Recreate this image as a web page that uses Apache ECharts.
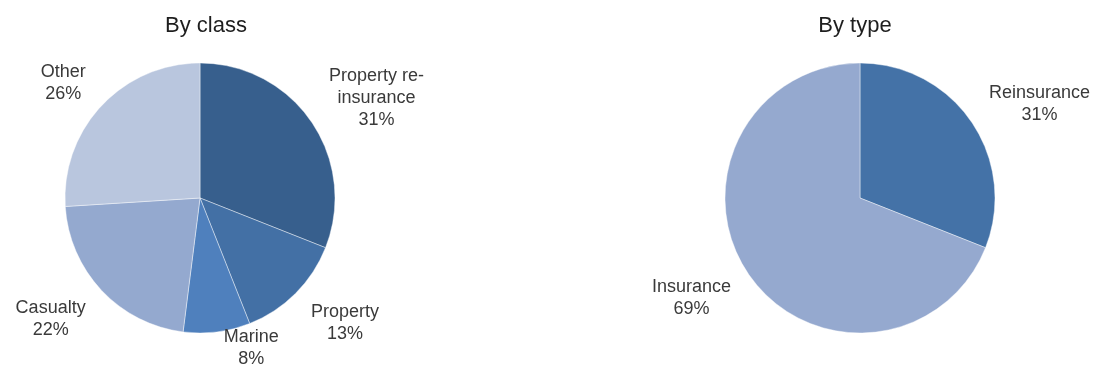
<!DOCTYPE html>
<html>
<head>
<meta charset="utf-8">
<script src="https://cdn.jsdelivr.net/npm/echarts@6/dist/echarts.min.js"></script>
<style>
  html, body { margin: 0; padding: 0; background: #ffffff; }
  #chart { width: 1095px; height: 365px; }
</style>
</head>
<body>
<div id="chart"></div>
<script>
// Premium split by class of business
const classNames = ['Property re-\ninsurance', 'Property', 'Marine', 'Casualty', 'Other'];
const classValues = [31, 13, 8, 22, 26];
const classColors = ['#375F8D', '#4370A5', '#4F80BD', '#94A9CF', '#B9C6DE'];

// Premium split by type of business
const typeNames = ['Reinsurance', 'Insurance'];
const typeValues = [31, 69];
const typeColors = ['#4472A7', '#95A9CF'];

const FONT = '"Liberation Sans", Arial, sans-serif';
const R = 135;
const LABEL_GAP = 15;
const LABEL_PAD_X = 5;
const LABEL_SHIFT_Y = 3;
const LABEL_BOTTOM = 370;

// Places each label just outside the slice's mid-angle: the box sits beside
// the anchor point horizontally and leans with the angle vertically, and is
// kept within the bottom edge.
function outsideLabels(values, cx, cy) {
  const total = values.reduce((a, b) => a + b, 0);
  return function (params) {
    const i = params.dataIndex;
    let before = 0;
    for (let k = 0; k < i; k++) before += values[k];
    const a = (before + values[i] / 2) / total * Math.PI * 2;
    const sx = Math.sin(a), sy = -Math.cos(a);
    const w = params.labelRect.width, h = params.labelRect.height;
    const px = cx + (R + LABEL_GAP) * sx;
    const py = cy + (R + LABEL_GAP) * sy;
    const x = px + (sx >= 0 ? 1 : -1) * (w / 2 + LABEL_PAD_X);
    let y = py + sy * h / 2 + LABEL_SHIFT_Y;
    if (y + h / 2 > LABEL_BOTTOM) y = LABEL_BOTTOM - h / 2;
    return { x: x, y: y, align: 'center', verticalAlign: 'middle' };
  };
}

function pieSeries(names, values, colors, cx, cy) {
  return {
    type: 'pie',
    center: [cx, cy],
    radius: [0, R],
    startAngle: 90,
    clockwise: true,
    avoidLabelOverlap: false,
    animation: false,
    itemStyle: { borderColor: 'rgba(255,255,255,0.7)', borderWidth: 0.6 },
    label: {
      show: true,
      position: 'outside',
      formatter: '{b}\n{c}%',
      fontFamily: FONT,
      fontSize: 18,
      lineHeight: 22,
      color: '#3a3a3a',
      align: 'center'
    },
    labelLine: { show: false },
    labelLayout: outsideLabels(values, cx, cy),
    emphasis: { disabled: true },
    data: names.map((n, i) => ({ name: n, value: values[i], itemStyle: { color: colors[i] } }))
  };
}

const titleStyle = { fontFamily: FONT, fontSize: 22, fontWeight: 'normal', color: '#1e1e1e' };

const chart = echarts.init(document.getElementById('chart'), null, { renderer: 'canvas' });
chart.setOption({
  backgroundColor: '#ffffff',
  title: [
    { text: 'By class', left: 201, top: 10, textAlign: 'center', textStyle: titleStyle },
    { text: 'By type', left: 850, top: 10, textAlign: 'center', textStyle: titleStyle }
  ],
  series: [
    pieSeries(classNames, classValues, classColors, 200, 198),
    pieSeries(typeNames, typeValues, typeColors, 860, 198)
  ]
});
</script>
</body>
</html>
